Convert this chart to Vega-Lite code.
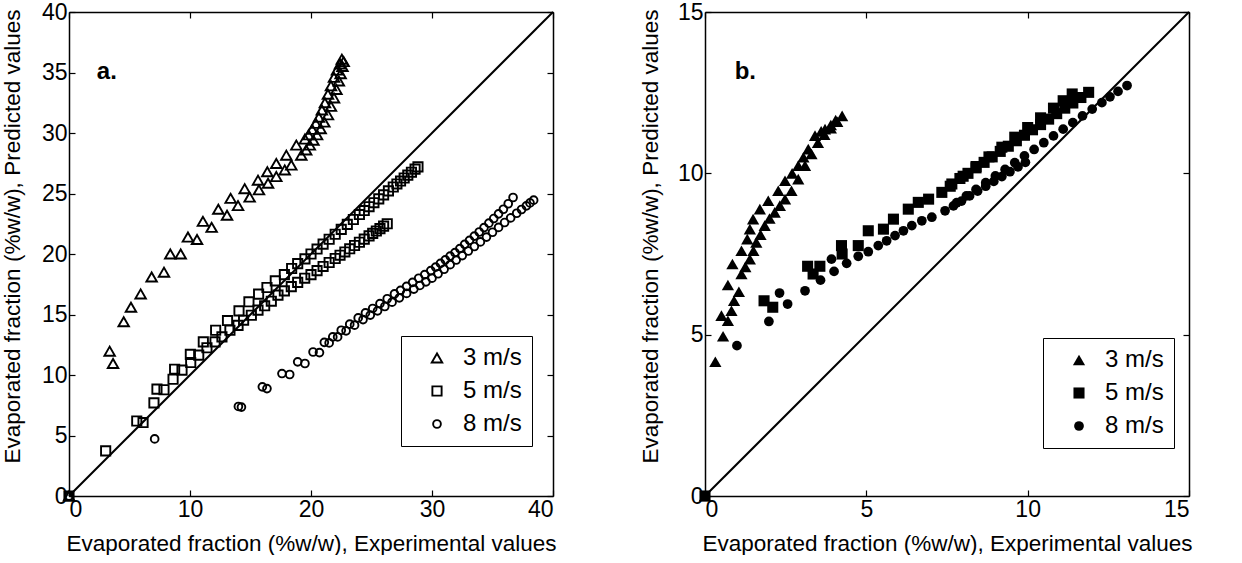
{
"$schema": "https://vega.github.io/schema/vega-lite/v6.json",
"background": "white",
"padding": {"left": 0, "top": 1, "right": 0, "bottom": 0},
"spacing": 81,
"config": {
  "font": "Liberation Sans",
  "view": {"stroke": null},
  "axis": {"grid": false, "domainColor": "black", "domainWidth": 1.5, "tickColor": "black", "tickWidth": 1.2, "tickSize": -6, "labelColor": "black", "labelFont": "Liberation Sans", "labelFontSize": 23, "titleFont": "Liberation Sans", "titleFontSize": 22.5, "titleFontWeight": "normal", "titleColor": "black", "labelPadding": 8}
},
"datasets": {
"a": [
{"s":"3 m/s","x":0,"y":0},{"s":"3 m/s","x":3.36,"y":11.97},{"s":"3 m/s","x":3.64,"y":10.95},{"s":"3 m/s","x":4.52,"y":14.4},{"s":"3 m/s","x":5.12,"y":15.6},{"s":"3 m/s","x":5.92,"y":16.7},{"s":"3 m/s","x":6.83,"y":18.1},{"s":"3 m/s","x":7.85,"y":18.5},{"s":"3 m/s","x":8.37,"y":20.0},{"s":"3 m/s","x":9.23,"y":20.0},{"s":"3 m/s","x":9.83,"y":21.4},{"s":"3 m/s","x":10.58,"y":21.2},{"s":"3 m/s","x":11.07,"y":22.7},{"s":"3 m/s","x":11.79,"y":22.2},{"s":"3 m/s","x":12.34,"y":23.7},{"s":"3 m/s","x":13.06,"y":23.2},{"s":"3 m/s","x":13.36,"y":24.6},{"s":"3 m/s","x":13.97,"y":24.0},{"s":"3 m/s","x":14.52,"y":25.4},{"s":"3 m/s","x":14.93,"y":24.7},{"s":"3 m/s","x":15.62,"y":26.1},{"s":"3 m/s","x":15.7,"y":25.3},{"s":"3 m/s","x":16.39,"y":26.8},{"s":"3 m/s","x":16.45,"y":25.85},{"s":"3 m/s","x":17.13,"y":27.48},{"s":"3 m/s","x":17.13,"y":26.4},{"s":"3 m/s","x":17.96,"y":28.17},{"s":"3 m/s","x":17.83,"y":26.95},{"s":"3 m/s","x":18.79,"y":29.0},{"s":"3 m/s","x":18.37,"y":27.35},{"s":"3 m/s","x":19.2,"y":28.17},
{"s":"3 m/s","x":19.5,"y":29.5},{"s":"3 m/s","x":19.8,"y":29.85},{"s":"3 m/s","x":20.1,"y":30.3},{"s":"3 m/s","x":20.4,"y":30.8},{"s":"3 m/s","x":20.65,"y":31.3},{"s":"3 m/s","x":20.9,"y":31.9},{"s":"3 m/s","x":21.15,"y":32.5},{"s":"3 m/s","x":21.4,"y":33.2},{"s":"3 m/s","x":21.65,"y":33.9},{"s":"3 m/s","x":21.9,"y":34.6},{"s":"3 m/s","x":22.15,"y":35.2},{"s":"3 m/s","x":22.4,"y":35.7},{"s":"3 m/s","x":22.55,"y":36.1},
{"s":"3 m/s","x":19.6,"y":28.6},{"s":"3 m/s","x":19.9,"y":29.0},{"s":"3 m/s","x":20.2,"y":29.4},{"s":"3 m/s","x":20.5,"y":29.85},{"s":"3 m/s","x":20.8,"y":30.35},{"s":"3 m/s","x":21.1,"y":30.9},{"s":"3 m/s","x":21.4,"y":31.5},{"s":"3 m/s","x":21.65,"y":32.2},{"s":"3 m/s","x":21.9,"y":32.9},{"s":"3 m/s","x":22.1,"y":33.6},{"s":"3 m/s","x":22.3,"y":34.3},{"s":"3 m/s","x":22.45,"y":34.9},{"s":"3 m/s","x":22.6,"y":35.5},{"s":"3 m/s","x":22.7,"y":35.9},
{"s":"5 m/s","x":0,"y":0},{"s":"5 m/s","x":3.03,"y":3.73},{"s":"5 m/s","x":5.6,"y":6.2},{"s":"5 m/s","x":6.12,"y":6.07},{"s":"5 m/s","x":7.02,"y":7.7},{"s":"5 m/s","x":7.27,"y":8.83},{"s":"5 m/s","x":7.85,"y":8.78},{"s":"5 m/s","x":8.6,"y":9.65},{"s":"5 m/s","x":8.73,"y":10.48},{"s":"5 m/s","x":9.34,"y":10.4},{"s":"5 m/s","x":10.03,"y":11.7},{"s":"5 m/s","x":10.06,"y":11.03},{"s":"5 m/s","x":10.72,"y":11.64},{"s":"5 m/s","x":11.1,"y":12.74},{"s":"5 m/s","x":11.4,"y":12.25},{"s":"5 m/s","x":12.12,"y":13.7},{"s":"5 m/s","x":12.07,"y":12.74},{"s":"5 m/s","x":12.64,"y":13.15},{"s":"5 m/s","x":13.1,"y":14.5},{"s":"5 m/s","x":13.3,"y":13.7},{"s":"5 m/s","x":13.97,"y":14.1},{"s":"5 m/s","x":14.05,"y":15.3},{"s":"5 m/s","x":14.43,"y":14.53},{"s":"5 m/s","x":14.87,"y":16.05},{"s":"5 m/s","x":15.07,"y":14.94},{"s":"5 m/s","x":15.67,"y":16.68},{"s":"5 m/s","x":15.62,"y":15.36},{"s":"5 m/s","x":16.36,"y":17.23},{"s":"5 m/s","x":16.17,"y":15.72},{"s":"5 m/s","x":17.05,"y":17.78},{"s":"5 m/s","x":16.72,"y":16.1},
{"s":"5 m/s","x":17.8,"y":18.3},{"s":"5 m/s","x":18.4,"y":18.8},{"s":"5 m/s","x":18.9,"y":19.2},{"s":"5 m/s","x":19.5,"y":19.6},{"s":"5 m/s","x":20.0,"y":20.0},{"s":"5 m/s","x":20.5,"y":20.41},{"s":"5 m/s","x":21.0,"y":20.82},{"s":"5 m/s","x":21.5,"y":21.22},{"s":"5 m/s","x":22.0,"y":21.63},{"s":"5 m/s","x":22.5,"y":22.04},{"s":"5 m/s","x":23.0,"y":22.45},{"s":"5 m/s","x":23.5,"y":22.85},{"s":"5 m/s","x":24.0,"y":23.26},{"s":"5 m/s","x":24.4,"y":23.59},{"s":"5 m/s","x":24.8,"y":23.91},{"s":"5 m/s","x":25.2,"y":24.24},{"s":"5 m/s","x":25.6,"y":24.56},{"s":"5 m/s","x":26.0,"y":24.89},{"s":"5 m/s","x":26.4,"y":25.22},{"s":"5 m/s","x":26.8,"y":25.54},{"s":"5 m/s","x":27.1,"y":25.79},{"s":"5 m/s","x":27.4,"y":26.03},{"s":"5 m/s","x":27.7,"y":26.28},{"s":"5 m/s","x":28.0,"y":26.52},{"s":"5 m/s","x":28.3,"y":26.76},{"s":"5 m/s","x":28.6,"y":27.01},{"s":"5 m/s","x":28.84,"y":27.2},
{"s":"5 m/s","x":17.27,"y":16.6},{"s":"5 m/s","x":17.8,"y":16.95},{"s":"5 m/s","x":18.37,"y":17.3},{"s":"5 m/s","x":18.9,"y":17.65},{"s":"5 m/s","x":19.48,"y":18.0},{"s":"5 m/s","x":20.0,"y":18.3},{"s":"5 m/s","x":20.5,"y":18.63},{"s":"5 m/s","x":21.0,"y":18.97},{"s":"5 m/s","x":21.5,"y":19.3},{"s":"5 m/s","x":22.0,"y":19.63},{"s":"5 m/s","x":22.4,"y":19.9},{"s":"5 m/s","x":22.8,"y":20.17},{"s":"5 m/s","x":23.2,"y":20.43},{"s":"5 m/s","x":23.6,"y":20.7},{"s":"5 m/s","x":24.0,"y":20.97},{"s":"5 m/s","x":24.4,"y":21.23},{"s":"5 m/s","x":24.8,"y":21.5},{"s":"5 m/s","x":25.1,"y":21.7},{"s":"5 m/s","x":25.4,"y":21.9},{"s":"5 m/s","x":25.7,"y":22.1},{"s":"5 m/s","x":26.0,"y":22.3},{"s":"5 m/s","x":26.3,"y":22.5},
{"s":"8 m/s","x":0,"y":0},{"s":"8 m/s","x":7.08,"y":4.72},{"s":"8 m/s","x":14.0,"y":7.4},{"s":"8 m/s","x":14.25,"y":7.35},{"s":"8 m/s","x":15.98,"y":9.02},{"s":"8 m/s","x":16.36,"y":8.88},{"s":"8 m/s","x":17.6,"y":10.12},{"s":"8 m/s","x":18.24,"y":10.04},{"s":"8 m/s","x":18.9,"y":11.09},{"s":"8 m/s","x":19.5,"y":10.95},{"s":"8 m/s","x":20.17,"y":11.9},{"s":"8 m/s","x":20.7,"y":11.85},
{"s":"8 m/s","x":21.1,"y":12.7},{"s":"8 m/s","x":21.8,"y":13.15},{"s":"8 m/s","x":22.5,"y":13.7},{"s":"8 m/s","x":23.2,"y":14.2},{"s":"8 m/s","x":23.9,"y":14.72},{"s":"8 m/s","x":24.5,"y":15.13},{"s":"8 m/s","x":25.1,"y":15.5},{"s":"8 m/s","x":25.7,"y":15.9},{"s":"8 m/s","x":26.3,"y":16.3},{"s":"8 m/s","x":26.9,"y":16.7},{"s":"8 m/s","x":27.4,"y":17.0},{"s":"8 m/s","x":27.9,"y":17.33},{"s":"8 m/s","x":28.4,"y":17.66},{"s":"8 m/s","x":28.9,"y":18.0},{"s":"8 m/s","x":29.4,"y":18.3},{"s":"8 m/s","x":29.9,"y":18.63},{"s":"8 m/s","x":30.3,"y":18.92},{"s":"8 m/s","x":30.7,"y":19.22},{"s":"8 m/s","x":31.1,"y":19.52},{"s":"8 m/s","x":31.5,"y":19.83},{"s":"8 m/s","x":31.9,"y":20.12},{"s":"8 m/s","x":32.3,"y":20.45},{"s":"8 m/s","x":32.7,"y":20.8},{"s":"8 m/s","x":33.1,"y":21.13},{"s":"8 m/s","x":33.5,"y":21.48},{"s":"8 m/s","x":33.9,"y":21.82},{"s":"8 m/s","x":34.3,"y":22.18},{"s":"8 m/s","x":34.7,"y":22.55},{"s":"8 m/s","x":35.1,"y":22.93},{"s":"8 m/s","x":35.5,"y":23.32},{"s":"8 m/s","x":35.9,"y":23.7},{"s":"8 m/s","x":36.3,"y":24.15},{"s":"8 m/s","x":36.7,"y":24.67},
{"s":"8 m/s","x":21.5,"y":12.65},{"s":"8 m/s","x":22.2,"y":13.15},{"s":"8 m/s","x":22.9,"y":13.65},{"s":"8 m/s","x":23.6,"y":14.12},{"s":"8 m/s","x":24.3,"y":14.58},{"s":"8 m/s","x":24.9,"y":14.95},{"s":"8 m/s","x":25.5,"y":15.3},{"s":"8 m/s","x":26.1,"y":15.66},{"s":"8 m/s","x":26.7,"y":16.02},{"s":"8 m/s","x":27.3,"y":16.38},{"s":"8 m/s","x":27.9,"y":16.74},{"s":"8 m/s","x":28.5,"y":17.1},{"s":"8 m/s","x":29.0,"y":17.4},{"s":"8 m/s","x":29.5,"y":17.7},{"s":"8 m/s","x":30.0,"y":18.0},{"s":"8 m/s","x":30.5,"y":18.37},{"s":"8 m/s","x":31.0,"y":18.74},{"s":"8 m/s","x":31.5,"y":19.12},{"s":"8 m/s","x":32.0,"y":19.5},{"s":"8 m/s","x":32.5,"y":19.87},{"s":"8 m/s","x":33.0,"y":20.25},{"s":"8 m/s","x":33.5,"y":20.62},{"s":"8 m/s","x":34.0,"y":21.0},{"s":"8 m/s","x":34.5,"y":21.4},{"s":"8 m/s","x":35.0,"y":21.8},{"s":"8 m/s","x":35.5,"y":22.2},{"s":"8 m/s","x":36.0,"y":22.6},{"s":"8 m/s","x":36.5,"y":22.98},{"s":"8 m/s","x":37.0,"y":23.37},{"s":"8 m/s","x":37.4,"y":23.68},{"s":"8 m/s","x":37.8,"y":23.98},{"s":"8 m/s","x":38.1,"y":24.22},{"s":"8 m/s","x":38.4,"y":24.45}
],
"b": [
{"s":"3 m/s","x":0,"y":0},{"s":"3 m/s","x":0.32,"y":4.16},{"s":"3 m/s","x":0.56,"y":4.95},{"s":"3 m/s","x":0.51,"y":5.59},{"s":"3 m/s","x":0.71,"y":5.43},{"s":"3 m/s","x":0.82,"y":5.74},{"s":"3 m/s","x":0.9,"y":6.05},{"s":"3 m/s","x":0.71,"y":6.54},{"s":"3 m/s","x":1.05,"y":6.33},{"s":"3 m/s","x":0.85,"y":7.19},{"s":"3 m/s","x":1.13,"y":6.88},{"s":"3 m/s","x":1.13,"y":7.6},{"s":"3 m/s","x":1.25,"y":7.1},{"s":"3 m/s","x":1.31,"y":7.96},{"s":"3 m/s","x":1.39,"y":7.34},{"s":"3 m/s","x":1.39,"y":8.27},{"s":"3 m/s","x":1.5,"y":7.6},{"s":"3 m/s","x":1.49,"y":8.58},{"s":"3 m/s","x":1.59,"y":7.86},{"s":"3 m/s","x":1.7,"y":8.89},{"s":"3 m/s","x":1.72,"y":8.1},{"s":"3 m/s","x":1.85,"y":8.38},{"s":"3 m/s","x":1.96,"y":9.15},{"s":"3 m/s","x":2.0,"y":8.6},{"s":"3 m/s","x":2.16,"y":8.79},{"s":"3 m/s","x":2.27,"y":9.46},{"s":"3 m/s","x":2.32,"y":9.0},{"s":"3 m/s","x":2.48,"y":9.77},{"s":"3 m/s","x":2.48,"y":9.2},{"s":"3 m/s","x":2.68,"y":9.46},{"s":"3 m/s","x":2.7,"y":10.0},{"s":"3 m/s","x":2.89,"y":10.24},{"s":"3 m/s","x":2.89,"y":9.82},{"s":"3 m/s","x":3.05,"y":10.5},{"s":"3 m/s","x":3.1,"y":10.24},{"s":"3 m/s","x":3.2,"y":10.75},{"s":"3 m/s","x":3.3,"y":10.6},{"s":"3 m/s","x":3.41,"y":11.17},{"s":"3 m/s","x":3.5,"y":10.95},{"s":"3 m/s","x":3.6,"y":11.3},{"s":"3 m/s","x":3.7,"y":11.2},{"s":"3 m/s","x":3.72,"y":11.37},{"s":"3 m/s","x":3.9,"y":11.5},{"s":"3 m/s","x":3.9,"y":11.4},{"s":"3 m/s","x":4.05,"y":11.65},{"s":"3 m/s","x":4.1,"y":11.6},{"s":"3 m/s","x":4.25,"y":11.78},
{"s":"5 m/s","x":0,"y":0},{"s":"5 m/s","x":1.83,"y":6.05},{"s":"5 m/s","x":2.1,"y":5.85},{"s":"5 m/s","x":3.18,"y":7.12},{"s":"5 m/s","x":3.35,"y":6.88},{"s":"5 m/s","x":3.56,"y":7.12},{"s":"5 m/s","x":4.25,"y":7.5},{"s":"5 m/s","x":4.23,"y":7.76},{"s":"5 m/s","x":4.75,"y":7.76},{"s":"5 m/s","x":5.06,"y":8.22},{"s":"5 m/s","x":5.53,"y":8.27},{"s":"5 m/s","x":5.84,"y":8.58},{"s":"5 m/s","x":6.3,"y":8.89},{"s":"5 m/s","x":6.61,"y":9.1},{"s":"5 m/s","x":6.93,"y":9.2},{"s":"5 m/s","x":7.34,"y":9.41},{"s":"5 m/s","x":7.65,"y":9.67},
{"s":"5 m/s","x":7.9,"y":9.84},{"s":"5 m/s","x":8.15,"y":10.0},{"s":"5 m/s","x":8.4,"y":10.17},{"s":"5 m/s","x":8.65,"y":10.34},{"s":"5 m/s","x":8.9,"y":10.51},{"s":"5 m/s","x":9.15,"y":10.68},{"s":"5 m/s","x":9.4,"y":10.84},{"s":"5 m/s","x":9.65,"y":11.01},{"s":"5 m/s","x":9.9,"y":11.18},{"s":"5 m/s","x":10.15,"y":11.35},{"s":"5 m/s","x":10.4,"y":11.51},{"s":"5 m/s","x":10.65,"y":11.68},{"s":"5 m/s","x":10.9,"y":11.85},{"s":"5 m/s","x":11.15,"y":12.02},{"s":"5 m/s","x":11.4,"y":12.18},{"s":"5 m/s","x":11.65,"y":12.35},{"s":"5 m/s","x":11.89,"y":12.51},
{"s":"5 m/s","x":7.6,"y":9.6},{"s":"5 m/s","x":8.0,"y":9.91},{"s":"5 m/s","x":8.4,"y":10.21},{"s":"5 m/s","x":8.8,"y":10.51},{"s":"5 m/s","x":9.2,"y":10.81},{"s":"5 m/s","x":9.6,"y":11.12},{"s":"5 m/s","x":10.0,"y":11.42},{"s":"5 m/s","x":10.4,"y":11.72},{"s":"5 m/s","x":10.8,"y":12.02},{"s":"5 m/s","x":11.1,"y":12.25},{"s":"5 m/s","x":11.38,"y":12.46},
{"s":"8 m/s","x":0,"y":0},{"s":"8 m/s","x":0.99,"y":4.66},{"s":"8 m/s","x":1.98,"y":5.41},{"s":"8 m/s","x":2.31,"y":6.29},{"s":"8 m/s","x":2.56,"y":5.95},{"s":"8 m/s","x":3.1,"y":6.36},{"s":"8 m/s","x":3.58,"y":6.69},{"s":"8 m/s","x":3.92,"y":7.34},{"s":"8 m/s","x":4.0,"y":6.96},{"s":"8 m/s","x":4.39,"y":7.21},{"s":"8 m/s","x":4.75,"y":7.43},{"s":"8 m/s","x":5.06,"y":7.57},{"s":"8 m/s","x":5.37,"y":7.76},{"s":"8 m/s","x":5.63,"y":7.91},{"s":"8 m/s","x":5.89,"y":8.07},{"s":"8 m/s","x":6.15,"y":8.22},{"s":"8 m/s","x":6.41,"y":8.38},{"s":"8 m/s","x":6.72,"y":8.53},{"s":"8 m/s","x":7.03,"y":8.64},{"s":"8 m/s","x":7.44,"y":8.84},
{"s":"8 m/s","x":7.7,"y":8.99},{"s":"8 m/s","x":7.95,"y":9.14},{"s":"8 m/s","x":8.2,"y":9.3},{"s":"8 m/s","x":8.45,"y":9.45},{"s":"8 m/s","x":8.7,"y":9.6},{"s":"8 m/s","x":8.95,"y":9.75},{"s":"8 m/s","x":9.2,"y":9.9},{"s":"8 m/s","x":9.45,"y":10.05},{"s":"8 m/s","x":9.7,"y":10.2},{"s":"8 m/s","x":9.93,"y":10.34},
{"s":"8 m/s","x":7.8,"y":9.09},{"s":"8 m/s","x":8.1,"y":9.3},{"s":"8 m/s","x":8.4,"y":9.5},{"s":"8 m/s","x":8.7,"y":9.71},{"s":"8 m/s","x":9.0,"y":9.92},{"s":"8 m/s","x":9.3,"y":10.12},{"s":"8 m/s","x":9.6,"y":10.33},{"s":"8 m/s","x":9.9,"y":10.54},{"s":"8 m/s","x":10.2,"y":10.74},{"s":"8 m/s","x":10.5,"y":10.95},{"s":"8 m/s","x":10.8,"y":11.16},{"s":"8 m/s","x":11.1,"y":11.37},{"s":"8 m/s","x":11.4,"y":11.57},{"s":"8 m/s","x":11.7,"y":11.78},{"s":"8 m/s","x":12.0,"y":11.99},{"s":"8 m/s","x":12.3,"y":12.19},{"s":"8 m/s","x":12.55,"y":12.37},{"s":"8 m/s","x":12.8,"y":12.54},{"s":"8 m/s","x":13.08,"y":12.72}
]
},
"hconcat": [
{
 "width": 484, "height": 484,
 "layer": [
  {"data": {"values": [{"x": 0, "y": 0, "x2": 40, "y2": 40}]},
   "mark": {"type": "rule", "color": "black", "strokeWidth": 2},
   "encoding": {
     "x": {"field": "x", "type": "quantitative", "scale": {"domain": [0, 40], "nice": false}, "axis": {"orient": "bottom", "values": [0, 10, 20, 30, 40], "title": "Evaporated fraction (%w/w), Experimental values", "titleY": 54, "titleBaseline": "alphabetic"}},
     "y": {"field": "y", "type": "quantitative", "scale": {"domain": [0, 40], "nice": false}, "axis": {"orient": "left", "values": [0, 5, 10, 15, 20, 25, 30, 35, 40], "title": "Evaporated fraction (%w/w), Predicted values", "titleX": -50, "titleY": 224, "titleAngle": 270, "titleBaseline": "alphabetic", "titleAlign": "center"}},
     "x2": {"field": "x2"}, "y2": {"field": "y2"}
   }},
  {"data": {"name": "a"},
   "mark": {"type": "point", "filled": false, "stroke": "black", "strokeWidth": 1.9, "opacity": 1},
   "encoding": {
     "x": {"field": "x", "type": "quantitative", "scale": {"domain": [0, 40], "nice": false}, "axis": {"orient": "top", "values": [0, 10, 20, 30, 40], "labels": false, "title": null}},
     "y": {"field": "y", "type": "quantitative", "scale": {"domain": [0, 40], "nice": false}, "axis": {"orient": "right", "values": [0, 5, 10, 15, 20, 25, 30, 35, 40], "labels": false, "title": null}},
     "size": {"field": "s", "type": "nominal", "scale": {"domain": ["3 m/s", "5 m/s", "8 m/s"], "range": [110, 60, 70]},
       "legend": {"title": null, "orient": "none", "legendX": 332, "legendY": 324, "strokeColor": "black", "fillColor": "white", "padding": 10, "rowPadding": 9, "symbolOffset": 14, "labelOffset": 14, "labelFontSize": 24, "labelFont": "Liberation Sans", "labelColor": "black", "symbolStrokeWidth": 1.9, "symbolStrokeColor": "black"}},
     "shape": {"field": "s", "type": "nominal", "scale": {"domain": ["3 m/s", "5 m/s", "8 m/s"], "range": ["triangle-up", "square", "circle"]},
       "legend": {"title": null, "orient": "none", "legendX": 332, "legendY": 324, "strokeColor": "black", "fillColor": "white", "padding": 10, "rowPadding": 9, "symbolOffset": 14, "labelOffset": 14, "labelFontSize": 24, "labelFont": "Liberation Sans", "labelColor": "black", "symbolStrokeWidth": 1.9, "symbolStrokeColor": "black"}}
   }},
  {"data": {"values": [{"t": "a.", "x": 2.3, "y": 34.5}]},
   "mark": {"type": "text", "fontSize": 24, "fontWeight": "bold", "align": "left", "baseline": "alphabetic", "color": "black"},
   "encoding": {
     "x": {"field": "x", "type": "quantitative", "scale": {"domain": [0, 40], "nice": false}, "axis": null},
     "y": {"field": "y", "type": "quantitative", "scale": {"domain": [0, 40], "nice": false}, "axis": null},
     "text": {"field": "t"}
   }}
 ],
 "resolve": {"axis": {"x": "independent", "y": "independent"}}
},
{
 "width": 484, "height": 484,
 "layer": [
  {"data": {"values": [{"x": 0, "y": 0, "x2": 15, "y2": 15}]},
   "mark": {"type": "rule", "color": "black", "strokeWidth": 2},
   "encoding": {
     "x": {"field": "x", "type": "quantitative", "scale": {"domain": [0, 15], "nice": false}, "axis": {"orient": "bottom", "values": [0, 5, 10, 15], "title": "Evaporated fraction (%w/w), Experimental values", "titleY": 54, "titleBaseline": "alphabetic"}},
     "y": {"field": "y", "type": "quantitative", "scale": {"domain": [0, 15], "nice": false}, "axis": {"orient": "left", "values": [0, 5, 10, 15], "title": "Evaporated fraction (%w/w), Predicted values", "titleX": -48, "titleY": 224, "titleAngle": 270, "titleBaseline": "alphabetic", "titleAlign": "center"}},
     "x2": {"field": "x2"}, "y2": {"field": "y2"}
   }},
  {"data": {"name": "b"},
   "mark": {"type": "point", "filled": true, "color": "black", "opacity": 1},
   "encoding": {
     "x": {"field": "x", "type": "quantitative", "scale": {"domain": [0, 15], "nice": false}, "axis": {"orient": "top", "values": [0, 5, 10, 15], "labels": false, "title": null}},
     "y": {"field": "y", "type": "quantitative", "scale": {"domain": [0, 15], "nice": false}, "axis": {"orient": "right", "values": [0, 5, 10, 15], "labels": false, "title": null}},
     "size": {"field": "s", "type": "nominal", "scale": {"domain": ["3 m/s", "5 m/s", "8 m/s"], "range": [150, 95, 110]},
       "legend": {"title": null, "orient": "none", "legendX": 338, "legendY": 326, "strokeColor": "black", "fillColor": "white", "padding": 10, "rowPadding": 9, "symbolOffset": 14, "labelOffset": 14, "labelFontSize": 24, "labelFont": "Liberation Sans", "labelColor": "black", "symbolFillColor": "black", "symbolStrokeColor": "black"}},
     "shape": {"field": "s", "type": "nominal", "scale": {"domain": ["3 m/s", "5 m/s", "8 m/s"], "range": ["triangle-up", "square", "circle"]},
       "legend": {"title": null, "orient": "none", "legendX": 338, "legendY": 326, "strokeColor": "black", "fillColor": "white", "padding": 10, "rowPadding": 9, "symbolOffset": 14, "labelOffset": 14, "labelFontSize": 24, "labelFont": "Liberation Sans", "labelColor": "black", "symbolFillColor": "black", "symbolStrokeColor": "black"}}
   }},
  {"data": {"values": [{"t": "b.", "x": 0.92, "y": 12.92}]},
   "mark": {"type": "text", "fontSize": 24, "fontWeight": "bold", "align": "left", "baseline": "alphabetic", "color": "black"},
   "encoding": {
     "x": {"field": "x", "type": "quantitative", "scale": {"domain": [0, 15], "nice": false}, "axis": null},
     "y": {"field": "y", "type": "quantitative", "scale": {"domain": [0, 15], "nice": false}, "axis": null},
     "text": {"field": "t"}
   }}
 ],
 "resolve": {"axis": {"x": "independent", "y": "independent"}}
}
],
"resolve": {"scale": {"x": "independent", "y": "independent", "shape": "independent", "size": "independent"}, "legend": {"shape": "independent", "size": "independent"}}
}
